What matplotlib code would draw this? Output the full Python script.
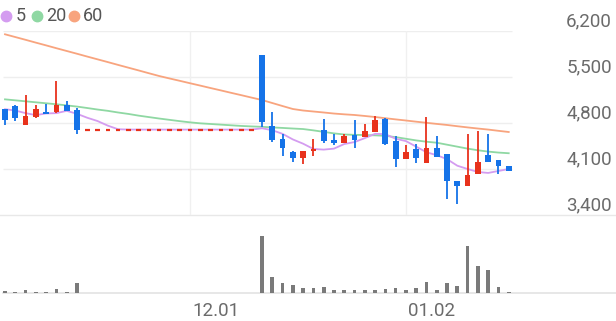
import matplotlib; matplotlib.use("Agg")
import matplotlib.pyplot as plt
from matplotlib.lines import Line2D
from matplotlib.transforms import blended_transform_factory

plt.rcParams['font.family'] = ['Roboto', 'DejaVu Sans']

# daily candles, 50 sessions (17 flat sessions = trading halt)
halt = 17
opens  = [5010, 5060, 4770, 4890, 4970, 4960, 5080, 5000] + [4700] * halt + \
         [5830, 4760, 4550, 4360, 4260, 4370, 4690, 4540, 4500, 4610, 4580, 4670, 4860,
          4530, 4250, 4400, 4190, 4420, 4330, 3920, 3840, 4020, 4310, 4240, 4150]
highs  = [5020, 5080, 5230, 5070, 5090, 5440, 5140, 5030] + [4700] * halt + \
         [5830, 4970, 4640, 4370, 4380, 4560, 4860, 4630, 4640, 4850, 4780, 4910, 4880,
          4600, 4460, 4480, 4890, 4600, 4330, 3920, 4640, 4680, 4630, 4240, 4150]
lows   = [4770, 4830, 4770, 4880, 4940, 4950, 4980, 4630] + [4700] * halt + \
         [4740, 4510, 4300, 4210, 4180, 4300, 4500, 4470, 4500, 4420, 4580, 4670, 4470,
          4130, 4250, 4190, 4190, 4290, 3650, 3560, 3840, 4020, 4200, 4020, 4070]
closes = [4840, 4870, 4900, 5010, 4940, 5070, 4990, 4700] + [4700] * halt + \
         [4810, 4540, 4420, 4270, 4370, 4400, 4520, 4500, 4600, 4540, 4680, 4850, 4480,
          4250, 4360, 4260, 4420, 4290, 3920, 3840, 4010, 4200, 4200, 4150, 4070]
volume = [23000, 13000, 27000, 10000, 13000, 40000, 13000, 100000] + [0] * halt + \
         [570000, 160000, 100000, 77000, 50000, 50000, 57000, 27000, 27000, 27000, 27000,
          27000, 43000, 50000, 27000, 50000, 110000, 27000, 100000, 67000, 470000, 270000,
          230000, 60000, 10000]

ma5  = [5010, 4990, 4950, 4920, 4945, 4950, 4985, 4940, 4880, 4830, 4760, 4705] + [4700] * 13 + \
       [4720, 4690, 4635, 4550, 4485, 4405, 4395, 4410, 4480, 4510, 4570, 4635, 4630,
        4560, 4525, 4440, 4355, 4310, 4250, 4150, 4100, 4055, 4040, 4070, 4100]
ma20 = [5160, 5145, 5130, 5115, 5100, 5085, 5068, 5050, 5028, 5005, 4985, 4960, 4938,
        4912, 4890, 4868, 4848, 4828, 4810, 4795, 4785, 4775, 4765, 4755, 4748, 4742,
        4733, 4725, 4716, 4708, 4688, 4665, 4642, 4625, 4620, 4617, 4612, 4605, 4585,
        4560, 4535, 4515, 4500, 4470, 4440, 4410, 4385, 4365, 4350, 4340]
ma60 = [6150, 6108, 6066, 6023, 5981, 5938, 5896, 5854, 5811, 5769, 5727, 5684, 5642,
        5600, 5557, 5515, 5478, 5442, 5405, 5369, 5332, 5296, 5259, 5223, 5186, 5150,
        5104, 5058, 5013, 4990, 4975, 4960, 4944, 4932, 4922, 4907, 4891, 4873, 4855,
        4838, 4820, 4803, 4786, 4770, 4751, 4733, 4716, 4700, 4681, 4663]

price_ticks = [6200, 5500, 4800, 4100, 3400]
date_idx = [18, 39]
date_labels = ["12.01", "01.02"]
ma_labels = ["5", "20", "60"]

UP, DOWN = "#e8321c", "#1573e8"
MA_COL = ["#d49cf0", "#8fd8a3", "#f8a47e"]
GRID = "#eeeeee"
TXT = "#6b6b6b"

W, H = 616, 321
fig = plt.figure(figsize=(W / 100, H / 100), dpi=100)
xlim = (-5 / 10.28, (W - 5) / 10.28)

def fy(py):  # pixel row (from top) -> figure fraction
    return (H - py) / H

ax = fig.add_axes([0, fy(215), 1, fy(31) - fy(215)])
axv = fig.add_axes([0, fy(293), 1, fy(225) - fy(293)])
for a in (ax, axv):
    a.set_xlim(*xlim); a.axis("off"); a.patch.set_alpha(0)
ax.set_ylim(3400, 6200)
axv.set_ylim(0, 680000)

# grid
ax.hlines(price_ticks[:-1], -0.2, 49.3, color=GRID, lw=1, zorder=0)
fig.add_artist(Line2D([0, 1], [fy(215), fy(215)], color="#e8e8e8", lw=1, zorder=0))
fig.add_artist(Line2D([3 / W, 1], [fy(293), fy(293)], color="#e3e3e3", lw=1.2, zorder=0))
tr = blended_transform_factory(ax.transData, fig.transFigure)
ax.vlines(date_idx, fy(293), 1, color="#f0f0f0", lw=1, transform=tr, zorder=0)

# moving averages
for ma, c in zip([ma60, ma20, ma5], MA_COL[::-1]):
    ax.plot(range(len(ma)), ma, color=c, lw=1.3, zorder=2)

# candles
bw = 0.56
for i, (o, h, l, c) in enumerate(zip(opens, highs, lows, closes)):
    col = DOWN if c < o else UP
    if o == c == h == l:
        ax.hlines(c, i - 0.22, i + 0.22, color=UP, lw=1.6, zorder=3)
        continue
    ax.vlines(i, l, h, color=col, lw=1.3, zorder=3)
    lo, hi = min(o, c), max(o, c)
    ax.bar(i, max(hi - lo, 20), bottom=lo, width=bw, color=col, lw=0, zorder=4)

# volume
axv.bar(range(len(volume)), volume, width=0.36, color="#7a7a7a", lw=0)

# labels
for p in price_ticks:
    ax.annotate(f"{p:,}", xy=(1, p), xycoords=("axes fraction", "data"),
                xytext=(-4, 5), textcoords="offset pixels", ha="right", va="baseline",
                fontsize=13.5, color=TXT)
for i, lab in zip(date_idx, date_labels):
    axv.annotate(lab, xy=(i, 0), xycoords="data", xytext=(2, -23),
                 textcoords="offset pixels", ha="left", va="baseline",
                 fontsize=13.5, color=TXT)

# legend
for (dx, tx), lab, c in zip([(6, 16), (37, 46), (74, 83)], ma_labels, MA_COL):
    fig.add_artist(Line2D([dx / W], [fy(16)], marker="o", ms=7.5, color=c, lw=0))
    fig.text(tx / W, fy(16), lab, fontsize=13, color="#555555", va="center", ha="left")

fig.savefig("out.png", dpi=100)
